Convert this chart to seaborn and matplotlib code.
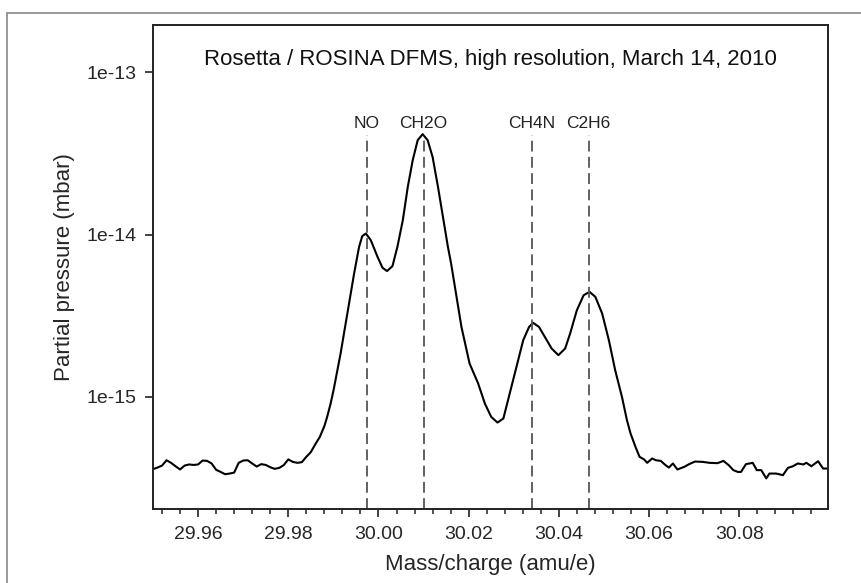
import numpy as np
import matplotlib
matplotlib.use("Agg")
import matplotlib.pyplot as plt
import matplotlib.ticker as mticker
from matplotlib.lines import Line2D
import seaborn as sns

# Mass/charge (amu/e)
mass = [
    29.950, 29.951, 29.952, 29.953, 29.954, 29.955, 29.956, 29.957, 29.958, 29.959,
    29.960, 29.961, 29.962, 29.963, 29.964, 29.965, 29.966, 29.967, 29.968, 29.969,
    29.970, 29.971, 29.972, 29.973, 29.974, 29.975, 29.976, 29.977, 29.978, 29.979,
    29.980, 29.981, 29.982, 29.983, 29.984, 29.985, 29.986, 29.987, 29.988,
    29.9886, 29.9894, 29.9901, 29.9916, 29.9931, 29.9946, 29.9957, 29.9964, 29.9972,
    29.9983, 29.9998, 30.0009, 30.0019, 30.0031, 30.0042, 30.0054, 30.0065, 30.0076,
    30.0087, 30.0098, 30.0109, 30.0120, 30.0132, 30.0143, 30.0154, 30.0161, 30.0172,
    30.0184, 30.0202, 30.0221, 30.0236, 30.0250, 30.0264, 30.0277, 30.0291, 30.0306,
    30.0321, 30.0334, 30.0343, 30.0356, 30.0369, 30.0384, 30.0399, 30.0414, 30.0425,
    30.0440, 30.0455, 30.0468, 30.0481, 30.0496, 30.0511, 30.0525, 30.0540, 30.0551,
    30.0559, 30.0570, 30.0579, 30.0589, 30.0596, 30.0607, 30.0615, 30.0626, 30.0637,
    30.0644, 30.0653, 30.0663, 30.0678, 30.0689, 30.0702, 30.0719, 30.0734, 30.0752,
    30.0765, 30.0777, 30.0787, 30.0797, 30.0804, 30.0815, 30.0830, 30.0839, 30.0849,
    30.0860, 30.0867, 30.0882, 30.0897, 30.0908, 30.0919, 30.0930, 30.0942, 30.0949,
    30.0960, 30.0975, 30.0986, 30.0995, 30.1005,
]

# log10 of partial pressure (mbar)
log_pressure = [
    -15.445, -15.435, -15.423, -15.390, -15.406, -15.427, -15.447, -15.423, -15.416, -15.419,
    -15.416, -15.392, -15.394, -15.410, -15.449, -15.462, -15.476, -15.472, -15.466, -15.406,
    -15.392, -15.390, -15.410, -15.429, -15.414, -15.419, -15.433, -15.443, -15.437, -15.420,
    -15.385, -15.400, -15.406, -15.402, -15.369, -15.340, -15.291, -15.246, -15.180,
    -15.125, -15.040, -14.950, -14.733, -14.486, -14.240, -14.076, -14.010, -13.994,
    -14.035, -14.138, -14.205, -14.225, -14.195, -14.076, -13.912, -13.707, -13.542,
    -13.419, -13.382, -13.419, -13.522, -13.707, -13.892, -14.076, -14.177, -14.363,
    -14.569, -14.794, -14.917, -15.041, -15.123, -15.158, -15.133, -14.979, -14.815,
    -14.651, -14.569, -14.544, -14.569, -14.631, -14.702, -14.743, -14.702, -14.610,
    -14.466, -14.374, -14.353, -14.384, -14.486, -14.651, -14.836, -15.000, -15.143,
    -15.225, -15.308, -15.369, -15.385, -15.406, -15.379, -15.390, -15.394, -15.421,
    -15.435, -15.410, -15.447, -15.431, -15.414, -15.398, -15.400, -15.406, -15.408,
    -15.394, -15.421, -15.451, -15.462, -15.462, -15.414, -15.406, -15.451, -15.451,
    -15.502, -15.472, -15.472, -15.482, -15.437, -15.427, -15.410, -15.416, -15.406,
    -15.427, -15.396, -15.441, -15.441, -15.451,
]
pressure = [10 ** v for v in log_pressure]

# species markers
species = ["NO", "CH2O", "CH4N", "C2H6"]
species_mass = [29.9974, 30.0100, 30.0340, 30.0466]

sns.set_style("ticks")
plt.rcParams["font.family"] = ["Liberation Sans", "DejaVu Sans"]

fig = plt.figure(figsize=(8.62, 5.83), dpi=100)
ax = fig.add_axes([0.1775, 0.1269, 0.7831, 0.8302])

sns.lineplot(x=mass, y=pressure, ax=ax, color="black", linewidth=1.5, sort=False)

ax.set_yscale("log")
ax.set_xlim(29.95, 30.0997)
ax.set_ylim(2.04e-16, 1.95e-13)

line_top = 4.08e-14
label_y = 4.85e-14
for name, m in zip(species, species_mass):
    ax.plot([m, m], [2.04e-16, line_top], color="#555555", lw=1.3, ls=(0, (6, 3)))
    ax.text(m, label_y, name, ha="center", va="center", fontsize=12.5, color="#222222")

ax.set_title("Rosetta / ROSINA DFMS, high resolution, March 14, 2010",
             fontsize=16, y=0.9, color="#111111")

ax.set_xlabel("Mass/charge (amu/e)", fontsize=16, labelpad=8)
ax.set_ylabel("Partial pressure (mbar)", fontsize=16, labelpad=8)

ax.xaxis.set_major_locator(mticker.MultipleLocator(0.02))
ax.xaxis.set_minor_locator(mticker.MultipleLocator(0.004))
ax.xaxis.set_major_formatter(mticker.FormatStrFormatter("%.2f"))
ax.yaxis.set_major_locator(mticker.FixedLocator([1e-15, 1e-14, 1e-13]))
ax.yaxis.set_minor_locator(mticker.NullLocator())
ax.yaxis.set_major_formatter(mticker.FuncFormatter(lambda v, p: f"1e{int(round(np.log10(v)))}"))

ax.tick_params(axis="both", which="major", direction="out", length=6, width=1.2,
               labelsize=14, pad=6, color="#222222")
ax.tick_params(axis="x", which="minor", direction="out", length=3.5, width=1.1, color="#222222")
for s in ax.spines.values():
    s.set_linewidth(1.4)
    s.set_color("#222222")

# grey frame around the whole figure
fy = 1 - 12.7 / 583
fx = 7 / 862
fig.add_artist(Line2D([fx, 1], [fy, fy], transform=fig.transFigure, color="#888888", lw=1.2))
fig.add_artist(Line2D([fx, fx], [0, fy], transform=fig.transFigure, color="#888888", lw=1.2))

fig.savefig("out.png", dpi=100)
